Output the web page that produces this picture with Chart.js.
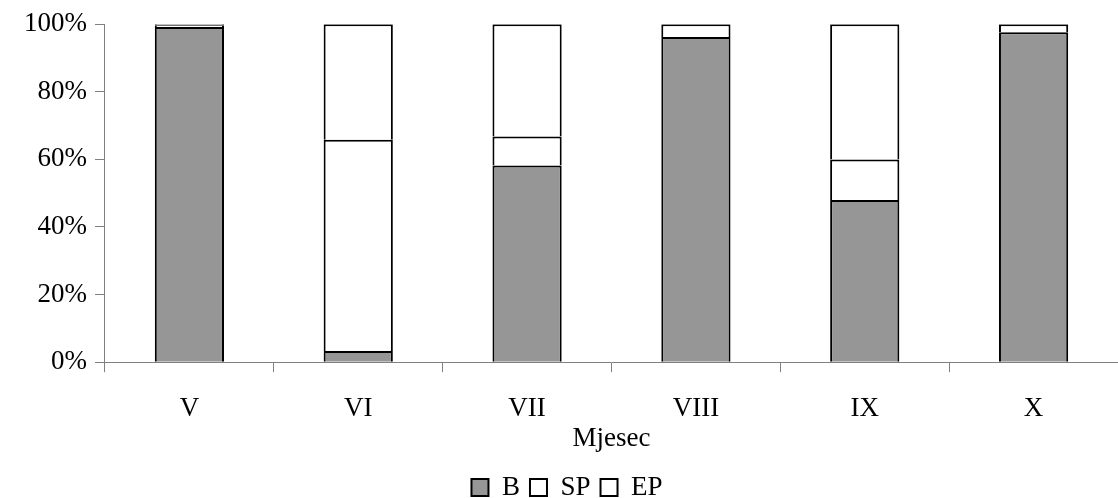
<!DOCTYPE html>
<html>
<head>
<meta charset="utf-8">
<script src="https://cdn.jsdelivr.net/npm/chart.js"></script>
<style>
  html, body { margin: 0; padding: 0; background: #fff; }
  #wrap { width: 1118px; height: 498px; }
</style>
</head>
<body>
<div id="wrap"><canvas id="chart" width="1118" height="498"></canvas></div>
<script>
const months = ['V', 'VI', 'VII', 'VIII', 'IX', 'X'];
const valuesB  = [99.2, 3.3, 58.2, 96.2, 48.0, 97.6];
const valuesSP = [0.5, 62.5, 8.6, 3.8, 12.0, 2.4];
const valuesEP = [0.3, 34.2, 33.2, 0.0, 40.0, 0.0];
const yTicks = [0, 20, 40, 60, 80, 100];

const serif = "'Liberation Serif', 'Times New Roman', serif";

const bar = (label, data, color) => ({
    label: label,
    data: data,
    backgroundColor: color,
    borderColor: '#000',
    borderWidth: 2,
    barPercentage: 0.41,
    categoryPercentage: 1
});

new Chart(document.getElementById('chart').getContext('2d'), {
    type: 'bar',
    data: {
        labels: months,
        datasets: [
            bar('B', valuesB, '#969696'),
            bar('SP', valuesSP, '#ffffff'),
            bar('EP', valuesEP, '#ffffff')
        ]
    },
    options: {
        responsive: false,
        animation: false,
        layout: { padding: { top: 14, right: 0, left: 16, bottom: -13 } },
        scales: {
            x: {
                stacked: true,
                offset: true,
                border: { color: '#808080', width: 1 },
                grid: { offset: true, drawOnChartArea: false, color: '#808080', tickLength: 10 },
                ticks: { color: '#000', font: { family: serif, size: 27 }, padding: 21 },
                title: { display: true, text: 'Mjesec', color: '#000', font: { family: serif, size: 27 }, padding: { top: -24, bottom: 9 } }
            },
            y: {
                stacked: true,
                min: 0,
                max: 100,
                afterBuildTicks: (axis) => { axis.ticks = yTicks.map(v => ({ value: v })); },
                border: { color: '#808080', width: 1 },
                grid: { drawOnChartArea: false, color: '#808080', tickLength: 10 },
                ticks: { color: '#000', font: { family: serif, size: 27 }, padding: 8, callback: (v) => v + '%' }
            }
        },
        plugins: {
            legend: {
                position: 'bottom',
                labels: {
                    color: '#000',
                    font: { family: serif, size: 27 },
                    boxWidth: 17,
                    boxHeight: 17,
                    padding: 10,
                    useBorderRadius: false
                }
            },
            tooltip: { enabled: false }
        }
    }
});
</script>
</body>
</html>
